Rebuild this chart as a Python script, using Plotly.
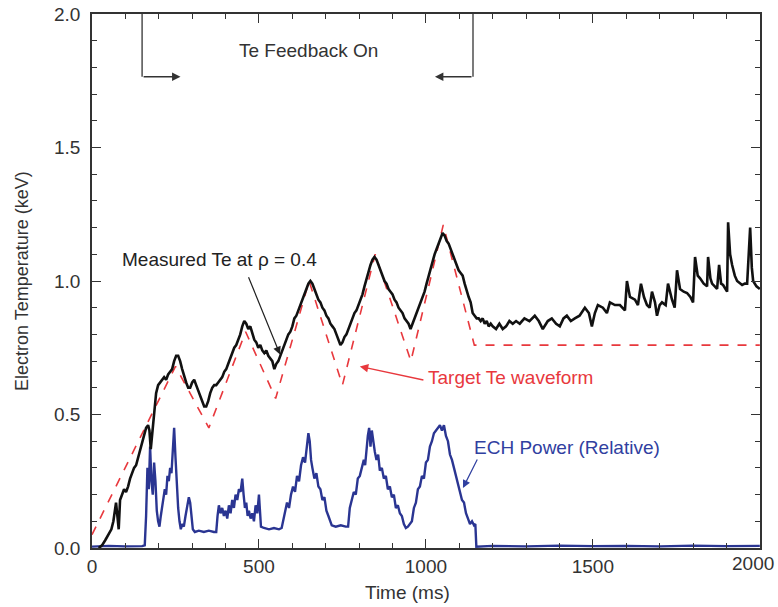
import plotly.graph_objects as go

# ---------------- data ----------------
target_t = [0, 250, 350, 460, 550, 650, 750, 848, 955, 1052, 1145, 2000]
target_te = [0.05, 0.68, 0.45, 0.81, 0.56, 1.00, 0.61, 1.10, 0.70, 1.21, 0.76, 0.76]

meas_t = [20, 30, 40, 50, 58, 64, 68, 72, 76, 80, 84, 90, 96, 102, 108, 114, 120, 126, 132, 138,
          144, 150, 156, 162, 168, 172, 176, 180, 186, 192, 198, 204, 210, 216, 222, 228, 234, 240,
          246, 252, 258, 264, 270, 276, 282, 288, 294, 300, 306, 312, 318, 324, 330, 336, 342, 348,
          354, 360, 366, 372, 378, 384, 390, 396, 402, 408, 414, 420, 426, 432, 438, 444, 450, 456,
          462, 468, 474, 480, 486, 492, 498, 504, 510, 516, 522, 528, 534, 540, 546, 552, 558, 564,
          570, 576, 582, 588, 594, 600, 606, 612, 618, 624, 630, 636, 642, 648, 654, 660, 666, 672,
          678, 684, 690, 696, 702, 708, 714, 720, 726, 732, 738, 744, 750, 756, 762, 768, 774, 780,
          786, 792, 798, 804, 810, 816, 822, 828, 834, 840, 846, 852, 858, 864, 870, 876, 882, 888,
          894, 900, 906, 912, 918, 924, 930, 936, 942, 948, 954, 960, 966, 972, 978, 984, 990, 996,
          1002, 1008, 1014, 1020, 1026, 1032, 1038, 1044, 1050, 1056, 1062, 1068, 1074, 1080, 1086,
          1092, 1098, 1104, 1110, 1116, 1122, 1128, 1134, 1140, 1146, 1152, 1158, 1164, 1170, 1176,
          1182, 1188, 1194, 1200, 1210, 1220, 1230, 1240, 1250, 1260, 1270, 1281, 1295, 1310, 1326,
          1338, 1350, 1365, 1377, 1390, 1401, 1412, 1422, 1434, 1446, 1460, 1476, 1488, 1497, 1506,
          1515, 1530, 1542, 1551, 1566, 1581, 1596, 1602, 1611, 1626, 1635, 1644, 1653, 1662, 1670,
          1677, 1686, 1692, 1700, 1707, 1718, 1725, 1737, 1745, 1752, 1761, 1772, 1782, 1792, 1800,
          1806, 1814, 1821, 1832, 1842, 1845, 1852, 1857, 1865, 1872, 1878, 1884, 1890, 1896, 1902,
          1905, 1911, 1917, 1925, 1932, 1940, 1947, 1955, 1962, 1971, 1976, 1980, 1990, 2000]
meas_te = [0.0, 0.01, 0.03, 0.05, 0.07, 0.10, 0.13, 0.17, 0.12, 0.07, 0.18, 0.20, 0.22, 0.21, 0.23,
           0.26, 0.28, 0.30, 0.31, 0.34, 0.37, 0.40, 0.43, 0.45, 0.46, 0.44, 0.37, 0.42, 0.50, 0.58,
           0.61, 0.62, 0.63, 0.64, 0.63, 0.65, 0.66, 0.67, 0.70, 0.72, 0.72, 0.70, 0.67, 0.64, 0.62,
           0.60, 0.60, 0.62, 0.63, 0.61, 0.59, 0.57, 0.55, 0.53, 0.53, 0.55, 0.58, 0.60, 0.61, 0.61,
           0.62, 0.63, 0.64, 0.66, 0.67, 0.69, 0.71, 0.73, 0.75, 0.76, 0.78, 0.80, 0.83, 0.85, 0.84,
           0.82, 0.83, 0.80, 0.78, 0.77, 0.75, 0.76, 0.74, 0.73, 0.74, 0.72, 0.71, 0.70, 0.67, 0.69,
           0.70, 0.72, 0.74, 0.76, 0.78, 0.80, 0.81, 0.83, 0.86, 0.87, 0.89, 0.91, 0.93, 0.95, 0.97,
           0.99, 1.00, 0.99, 0.97, 0.95, 0.93, 0.92, 0.90, 0.89, 0.87, 0.86, 0.84, 0.83, 0.82, 0.80,
           0.78, 0.76, 0.77, 0.79, 0.80, 0.82, 0.84, 0.86, 0.88, 0.89, 0.91, 0.93, 0.95, 0.98, 1.01,
           1.04, 1.06, 1.08, 1.09, 1.08, 1.06, 1.04, 1.02, 1.00, 0.99, 0.97, 0.96, 0.95, 0.93, 0.92,
           0.90, 0.89, 0.88, 0.86, 0.85, 0.84, 0.82, 0.84, 0.86, 0.88, 0.90, 0.92, 0.94, 0.96, 0.99,
           1.02, 1.05, 1.08, 1.10, 1.12, 1.14, 1.16, 1.18, 1.17, 1.15, 1.14, 1.12, 1.10, 1.08, 1.06,
           1.04, 1.03, 1.02, 0.99, 0.96, 0.94, 0.92, 0.88, 0.87, 0.86, 0.86, 0.85, 0.86, 0.84, 0.85,
           0.83, 0.84, 0.83, 0.82, 0.84, 0.82, 0.83, 0.85, 0.84, 0.85, 0.84, 0.86, 0.85, 0.87, 0.85,
           0.82, 0.85, 0.86, 0.84, 0.83, 0.86, 0.87, 0.85, 0.86, 0.87, 0.90, 0.88, 0.83, 0.88, 0.91,
           0.90, 0.88, 0.92, 0.91, 0.91, 0.89, 1.00, 0.94, 0.93, 0.91, 0.99, 0.94, 0.91, 0.90, 0.96,
           0.92, 0.87, 0.91, 0.92, 0.91, 0.99, 0.93, 0.90, 1.04, 0.97, 0.96, 0.955, 0.94, 0.92, 1.09,
           1.02, 1.01, 0.99, 0.98, 1.09, 1.01, 0.99, 0.98, 0.97, 1.06, 0.99, 0.985, 0.97, 0.96, 1.22,
           1.10, 1.06, 1.02, 1.00, 0.99, 0.985, 0.99, 0.99, 1.20, 1.05, 1.00, 0.98, 0.97]

ech_t = [0, 50, 100, 150, 158, 162, 166, 170, 174, 178, 182, 186, 190, 194, 198, 202, 206, 210, 214,
         218, 222, 226, 230, 234, 238, 242, 246, 250, 254, 258, 262, 266, 270, 275, 280, 285, 290,
         294, 298, 302, 308, 320, 335, 350, 365, 372, 376, 380, 385, 390, 395, 400, 405, 410, 415,
         420, 425, 430, 435, 440, 445, 450, 454, 458, 462, 466, 470, 475, 480, 485, 490, 495, 500,
         503, 506, 515, 530, 545, 560, 568, 572, 578, 584, 590, 596, 602, 608, 614, 620, 626, 632,
         638, 644, 648, 652, 656, 660, 666, 672, 678, 684, 690, 696, 702, 708, 714, 718, 730, 745,
         760, 767, 772, 778, 784, 790, 796, 802, 808, 814, 818, 822, 826, 830, 834, 838, 842, 847,
         852, 857, 862, 868, 874, 880, 886, 892, 898, 904, 910, 916, 922, 928, 934, 940, 946, 952,
         958, 964, 970, 976, 982, 988, 994, 1000, 1006, 1012, 1018, 1024, 1030, 1036, 1042, 1048,
         1054, 1060, 1066, 1072, 1078, 1084, 1090, 1096, 1102, 1108, 1114, 1120, 1126, 1132, 1138,
         1144, 1148, 1151, 1200, 1300, 1400, 1500, 1600, 1700, 1800, 1900, 2000]
ech_p = [0.005, 0.008, 0.006, 0.007, 0.01, 0.12, 0.30, 0.22, 0.38, 0.25, 0.20, 0.32, 0.25, 0.14,
         0.10, 0.08, 0.12, 0.15, 0.18, 0.22, 0.20, 0.27, 0.25, 0.30, 0.28, 0.36, 0.45, 0.34, 0.22,
         0.15, 0.10, 0.07, 0.09, 0.08, 0.12, 0.15, 0.19, 0.17, 0.12, 0.07, 0.06, 0.065, 0.06, 0.065,
         0.06, 0.06, 0.12, 0.16, 0.13, 0.15, 0.12, 0.14, 0.11, 0.16, 0.13, 0.18, 0.15, 0.20, 0.18,
         0.22, 0.21, 0.26, 0.20, 0.15, 0.17, 0.12, 0.14, 0.11, 0.13, 0.10, 0.16, 0.13, 0.20, 0.11,
         0.08, 0.075, 0.07, 0.075, 0.07, 0.075, 0.10, 0.13, 0.17, 0.15, 0.20, 0.23, 0.21, 0.27, 0.25,
         0.31, 0.34, 0.32, 0.38, 0.43, 0.40, 0.33, 0.30, 0.26, 0.28, 0.23, 0.22, 0.18, 0.19, 0.14,
         0.12, 0.10, 0.085, 0.08, 0.085, 0.08, 0.08, 0.15, 0.18, 0.21, 0.20, 0.26, 0.27, 0.30, 0.33,
         0.31, 0.37, 0.42, 0.45, 0.38, 0.44, 0.40, 0.36, 0.33, 0.35, 0.29, 0.30, 0.26, 0.27, 0.22,
         0.23, 0.19, 0.20, 0.15, 0.16, 0.13, 0.12, 0.09, 0.075, 0.08, 0.09, 0.10, 0.15, 0.17, 0.22,
         0.23, 0.27, 0.26, 0.32, 0.33, 0.38, 0.40, 0.43, 0.44, 0.45, 0.46, 0.44, 0.46, 0.42, 0.40,
         0.35, 0.33, 0.30, 0.27, 0.25, 0.22, 0.18, 0.17, 0.13, 0.11, 0.09, 0.10, 0.085, 0.09, 0.005,
         0.008, 0.006, 0.009, 0.007, 0.008, 0.006, 0.009, 0.007, 0.008]

x_ticks = [0, 500, 1000, 1500, 2000]
x_labels = ["0", "500", "1000", "1500", "2000"]
y_ticks = [0.0, 0.5, 1.0, 1.5, 2.0]

FONT = "Liberation Sans, Arial, sans-serif"
TXT = "#333333"
RED = "#e8383d"
BLUE = "#2a3592"

fig = go.Figure()
fig.add_trace(go.Scatter(x=ech_t, y=ech_p, mode="lines",
                         line=dict(color=BLUE, width=2.4), hoverinfo="skip"))
fig.add_trace(go.Scatter(x=target_t, y=target_te, mode="lines",
                         line=dict(color=RED, width=1.6, dash="dash"), hoverinfo="skip"))
fig.add_trace(go.Scatter(x=meas_t, y=meas_te, mode="lines",
                         line=dict(color="#111111", width=2.6), hoverinfo="skip"))

# Feedback bracket lines
bracket_y = 1.765
fig.add_shape(type="line", x0=150, x1=150, y0=2.0, y1=bracket_y, line=dict(color="#333", width=1.3))
fig.add_shape(type="line", x0=1141, x1=1141, y0=2.0, y1=bracket_y, line=dict(color="#333", width=1.3))

annotations = [
    dict(x=265, y=bracket_y, ax=150, ay=bracket_y, axref="x", ayref="y", xref="x", yref="y",
         text="", showarrow=True, arrowhead=2, arrowsize=1.3, arrowwidth=1.3, arrowcolor="#333"),
    dict(x=1027, y=bracket_y, ax=1141, ay=bracket_y, axref="x", ayref="y", xref="x", yref="y",
         text="", showarrow=True, arrowhead=2, arrowsize=1.3, arrowwidth=1.3, arrowcolor="#333"),
    dict(x=647, y=1.865, xref="x", yref="y", text="Te Feedback On", showarrow=False,
         font=dict(family=FONT, size=19, color=TXT)),
    dict(x=383, y=1.08, xref="x", yref="y", text="Measured Te at ρ = 0.4", showarrow=False,
         font=dict(family=FONT, size=19, color="#222")),
    dict(x=563, y=0.725, ax=467, ay=1.02, axref="x", ayref="y", xref="x", yref="y",
         text="", showarrow=True, arrowhead=2, arrowsize=1.3, arrowwidth=1.2, arrowcolor="#222"),
    dict(x=1254, y=0.64, xref="x", yref="y", text="Target Te waveform", showarrow=False,
         font=dict(family=FONT, size=19, color=RED)),
    dict(x=802, y=0.68, ax=997, ay=0.628, axref="x", ayref="y", xref="x", yref="y",
         text="", showarrow=True, arrowhead=2, arrowsize=1.3, arrowwidth=1.3, arrowcolor=RED),
    dict(x=1422, y=0.375, xref="x", yref="y", text="ECH Power (Relative)", showarrow=False,
         font=dict(family=FONT, size=19, color="#3040a0")),
    dict(x=1111, y=0.225, ax=1156, ay=0.337, axref="x", ayref="y", xref="x", yref="y",
         text="", showarrow=True, arrowhead=2, arrowsize=1.3, arrowwidth=1.2, arrowcolor="#3040a0"),
    # axis titles
    dict(x=-0.1048, y=0.5, xref="paper", yref="paper", text="Electron Temperature (keV)",
         textangle=-90, showarrow=False, xanchor="center", yanchor="middle",
         font=dict(family=FONT, size=18, color=TXT)),
    dict(x=0.4716, y=-0.0824, xref="paper", yref="paper", text="Time (ms)",
         showarrow=False, xanchor="center", yanchor="middle",
         font=dict(family=FONT, size=19, color=TXT)),
    # last x tick label, pulled inward as in the reference
    dict(x=x_ticks[-1], y=-0.0285, xref="x", yref="paper", text=x_labels[-1],
         showarrow=False, xanchor="right", yanchor="middle", xshift=16,
         font=dict(family=FONT, size=19, color=TXT)),
]

fig.update_layout(
    width=778, height=607,
    margin=dict(l=92, r=18, t=14, b=59),
    paper_bgcolor="white", plot_bgcolor="white",
    showlegend=False,
    font=dict(family=FONT, size=19, color=TXT),
    annotations=annotations,
    xaxis=dict(range=[0, 2000.5], tickvals=x_ticks, ticktext=x_labels[:-1] + [""],
               ticks="inside", ticklen=9, tickwidth=1.3, tickcolor="#333",
               showline=True, linecolor="#333", linewidth=1.5, mirror="ticks",
               showgrid=False, zeroline=False, automargin=False,
               minor=dict(ticks="inside", ticklen=5, dtick=100, tickcolor="#333", tickwidth=1.2),
               tickfont=dict(size=19, color=TXT)),
    yaxis=dict(range=[0, 2.0], tickvals=y_ticks, ticktext=[f"{v:.1f}" for v in y_ticks],
               ticks="inside", ticklen=9, tickwidth=1.3, tickcolor="#333",
               showline=True, linecolor="#333", linewidth=1.5, mirror="ticks",
               showgrid=False, zeroline=False, ticklabelstandoff=6, automargin=False,
               minor=dict(ticks="inside", ticklen=5, dtick=0.1, tickcolor="#333", tickwidth=1.2),
               tickfont=dict(size=19, color=TXT)),
)

fig.write_html("out.html")
